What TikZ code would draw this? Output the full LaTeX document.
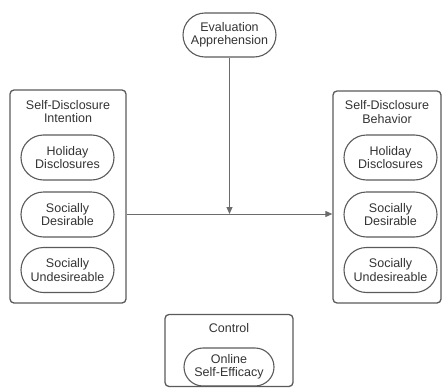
\documentclass[tikz,border=0pt]{standalone}
\usepackage{fontspec}
\setmainfont{Liberation Sans}
\usetikzlibrary{shapes.misc,arrows.meta}
\definecolor{edge}{HTML}{5A5A5A}
\definecolor{txt}{HTML}{333333}
\tikzset{
  frame/.style={draw=edge, line width=1.3pt, rounded corners=4pt},
  pill/.style={draw=edge, line width=1.1pt, rounded rectangle, minimum width=93pt, minimum height=45pt, inner sep=0pt,
    align=center, text=txt, font=\fontsize{12.5}{13.5}\selectfont},
  lbl/.style={align=center, text=txt, font=\fontsize{12.5}{13.5}\selectfont, inner sep=0pt},
  conn/.style={draw=edge!90, line width=1pt},
  tip/.style={-{Triangle[length=7pt,width=6pt]}}
}
\begin{document}
\begin{tikzpicture}[x=1pt,y=-1pt]
\useasboundingbox (0,0) rectangle (444,388);
% left box
\node[frame, minimum width=116pt, minimum height=213pt, inner sep=0pt] (lbox) at (68,196.5) {};
\node[lbl] (ltitle) at (68,111.5) {Self-Disclosure\\Intention};
\node[pill] (l1) at (67.5,157.5) {Holiday\\Disclosures};
\node[pill] (l2) at (67.5,214.5) {Socially\\Desirable};
\node[pill] (l3) at (67.5,270) {Socially\\Undesireable};
% right box
\node[frame, minimum width=108pt, minimum height=212pt, inner sep=0pt] (rbox) at (387,197) {};
\node[lbl] (rtitle) at (387,112) {Self-Disclosure\\Behavior};
\node[pill] (r1) at (390.5,157.5) {Holiday\\Disclosures};
\node[pill] (r2) at (390.5,214.5) {Socially\\Desirable};
\node[pill] (r3) at (390.5,270) {Socially\\Undesireable};
% evaluation
\node[pill, minimum height=44pt] (eval) at (229.5,35) {Evaluation\\Apprehension};
% control
\node[frame, minimum width=128pt, minimum height=72pt, inner sep=0pt] (cbox) at (229,350.5) {};
\node[lbl] (ctitle) at (229,328) {Control};
\node[pill, minimum width=90pt, minimum height=38pt] (c1) at (229,367) {Online\\Self-Efficacy};
% connectors
\coordinate (m) at (229.5,214);
\draw[conn, tip] (lbox.east |- m) -- (rbox.west |- m);
\draw[conn, tip] (eval.south) -- (m);
\end{tikzpicture}
\end{document}
